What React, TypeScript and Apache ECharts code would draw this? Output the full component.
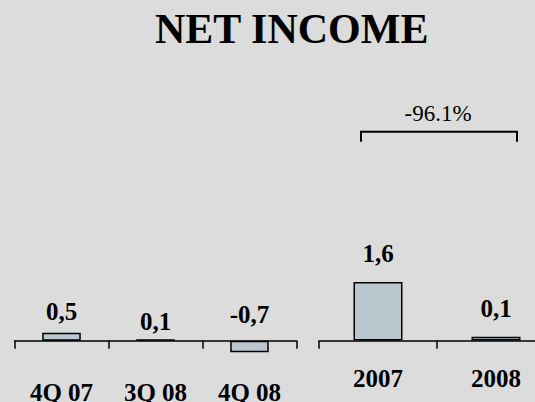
import React, { useEffect, useRef } from "react";
import * as echarts from "echarts";

const quarterCategories = ["4Q 07", "3Q 08", "4Q 08"];
const quarterValues = [0.5, 0.1, -0.7];
const quarterLabelGap = [9, 5, 14];
const yearCategories = ["2007", "2008"];
const yearValues = [1.6, 0.1];
const yearLabelGap = [16, 16];
const titleText = "NET INCOME";
const changeText = "-96.1%";

const FONT = "'Liberation Serif', 'Times New Roman', serif";
const BAR_FILL = "#bac7ce";
const BG = "#dcdcdc";

const fmt = (v: number) => String(v).replace(".", ",");

export default function App() {
  const ref = useRef<HTMLDivElement>(null);
  useEffect(() => {
    if (!ref.current) return;
    const chart = echarts.init(ref.current, undefined, { renderer: "svg" });
    const labelStyle = {
      show: true,
      position: "top" as const,
      fontFamily: FONT,
      fontSize: 25,
      fontWeight: "bold" as const,
      color: "#000",
      formatter: (p: any) => fmt(p.value),
    };
    const axisCommon = (margin: number, offset: number) => ({
      type: "category" as const,
      position: "bottom" as const,
      offset,
      axisLine: { show: true, onZero: false, lineStyle: { color: "#000", width: 1.5 } },
      axisTick: { show: true, length: 8, lineStyle: { color: "#000", width: 1.5 } },
      axisLabel: {
        margin,
        fontFamily: FONT,
        fontSize: 25,
        fontWeight: "bold" as const,
        color: "#000",
        interval: 0,
      },
      splitLine: { show: false },
    });
    chart.setOption({
      animation: false,
      backgroundColor: BG,
      title: {
        text: titleText,
        left: 155,
        top: 8,
        padding: 0,
        textStyle: { fontFamily: FONT, fontSize: 42, fontWeight: "bold", color: "#000" },
      },
      grid: [
        { left: 14.5, width: 282, top: 275.5, height: 98, outerBoundsMode: "none", containLabel: false },
        { left: 319, width: 236, top: 231, height: 146, outerBoundsMode: "none", containLabel: false },
      ],
      xAxis: [
        { ...axisCommon(39, -32.8), gridIndex: 0, data: quarterCategories },
        { ...axisCommon(25, -36.3), gridIndex: 1, data: yearCategories },
      ],
      yAxis: [
        { type: "value", gridIndex: 0, min: -2, max: 4, show: false, splitLine: { show: false } },
        { type: "value", gridIndex: 1, min: -1, max: 3, show: false, splitLine: { show: false } },
      ],
      series: [
        {
          type: "bar",
          xAxisIndex: 0,
          yAxisIndex: 0,
          barWidth: "41%",
          itemStyle: { color: BAR_FILL, borderColor: "#000", borderWidth: 1.5 },
          data: quarterValues.map((v, i) => ({
            value: v,
            label: { ...labelStyle, distance: quarterLabelGap[i] },
          })),
        },
        {
          type: "bar",
          xAxisIndex: 1,
          yAxisIndex: 1,
          barWidth: "41.5%",
          itemStyle: { color: BAR_FILL, borderColor: "#000", borderWidth: 1.5 },
          data: yearValues.map((v, i) => ({
            value: v,
            label: { ...labelStyle, distance: yearLabelGap[i] },
          })),
        },
      ],
      graphic: [
        {
          type: "text",
          x: 438,
          y: 113,
          style: {
            text: changeText,
            font: `23px ${FONT}`,
            fill: "#000",
            textAlign: "center",
            textVerticalAlign: "middle",
          },
        },
        {
          type: "polyline",
          shape: { points: [[361, 141.7], [361, 131.7], [517, 131.7], [517, 141.7]] },
          style: { stroke: "#000", lineWidth: 2, fill: "none" },
        },
      ],
    });
    return () => chart.dispose();
  }, []);
  return (
    <div
      ref={ref}
      style={{ position: "fixed", left: 0, top: 0, width: 535, height: 402 }}
    />
  );
}
